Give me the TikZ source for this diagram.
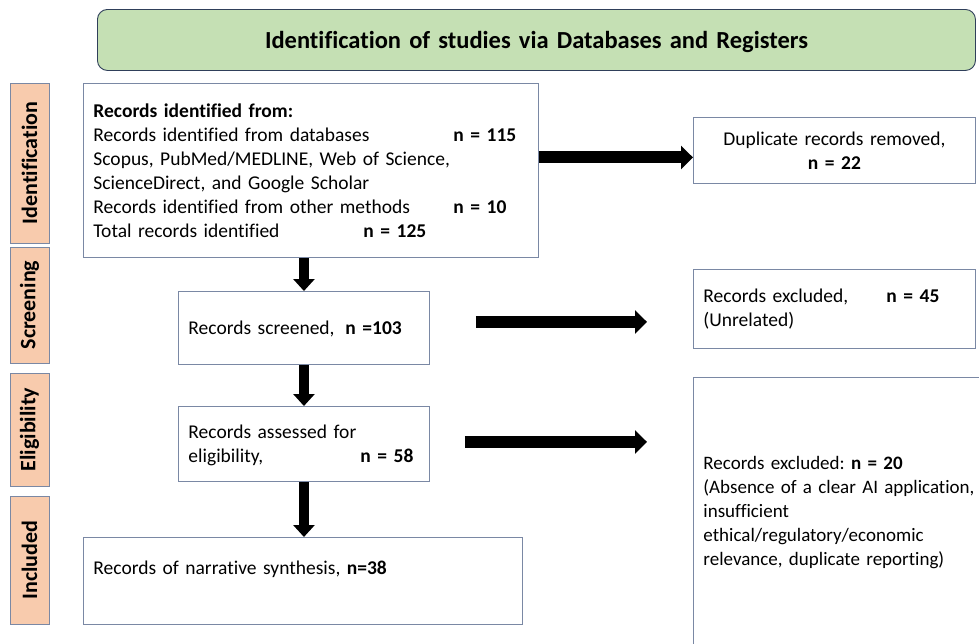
\documentclass[tikz,border=0pt]{standalone}
\usepackage{fontspec}
\setmainfont{Carlito}[Ligatures={NoCommon,NoRare,NoContextual}, RawFeature={-liga;-dlig;-clig}]
\usetikzlibrary{arrows.meta}
\definecolor{titlefill}{HTML}{C5E0B4}
\definecolor{titleline}{HTML}{2F3F5A}
\definecolor{sidefill}{HTML}{F8CBAD}
\definecolor{boxline}{HTML}{7A88A4}
\tikzset{
  x=1pt, y=-1pt,
  box/.style={draw=boxline, line width=0.9pt, anchor=north west, inner xsep=10pt, inner ysep=0pt,
    align=left, font=\fontsize{19.5}{24}\selectfont\frenchspacing},
  sidebox/.style={draw=boxline, fill=sidefill, line width=0.9pt, rotate=90, minimum height=39pt,
    inner sep=0pt, font=\bfseries\fontsize{22}{26}\selectfont},
  blk/.style={line width=12pt, draw=black, -{Triangle[length=12pt,width=23pt]}},
  blkv/.style={line width=10pt, draw=black, -{Triangle[length=12pt,width=21pt]}}
}
\begin{document}
\frenchspacing
\begin{tikzpicture}
\useasboundingbox (0,0) rectangle (979,643);
% title
\node[draw=titleline, fill=titlefill, line width=0.9pt, rounded corners=10pt, anchor=north west,
  minimum width=878pt, text width=858pt, align=center, inner xsep=10pt, inner ysep=0pt,
  text height=39pt, text depth=22pt, font=\bfseries\fontsize{24.5}{30}\selectfont]
  (title) at (97,9) {Identification of studies via Databases and Registers};
% side labels
\node[sidebox, minimum width=160pt] (sid) at (29.5,163) {Identification};
\node[sidebox, minimum width=116pt] (sscr) at (29.5,305) {Screening};
\node[sidebox, minimum width=113pt] (selig) at (29.5,429.5) {Eligibility};
\node[sidebox, minimum width=128pt] (sincl) at (29.5,560) {Included};
% boxes
\node[box, minimum width=455pt, text width=435pt, text height=34pt, text depth=140pt] (box1) at (83,83)
  {\textbf{Records identified from:}\\
   \makebox[360pt][l]{Records identified from databases}\textbf{n = 115}\\
   Scopus, PubMed/MEDLINE, Web of Science,\\
   ScienceDirect, and Google Scholar\\
   \makebox[360pt][l]{Records identified from other methods}\textbf{n = 10}\\
   \makebox[270pt][l]{Total records identified}\textbf{n = 125}};
\node[box, align=center, minimum width=282pt, text width=262pt, text height=28pt, text depth=38pt] (dup) at (693,117)
  {Duplicate records removed,\\ \textbf{n = 22}};
\node[box, minimum width=251pt, text width=231pt, text height=43pt, text depth=30pt] (scr) at (178,291)
  {\makebox[157pt][l]{Records screened,}\textbf{n =103}};
\node[box, minimum width=282pt, text width=262pt, text height=33pt, text depth=46pt] (exc45) at (693,269)
  {\makebox[183pt][l]{Records excluded,}\textbf{n = 45}\\(Unrelated)};
\node[box, minimum width=251pt, text width=231pt, text height=32pt, text depth=43pt] (elig) at (178,406)
  {Records assessed for\\\makebox[172pt][l]{eligibility,}\textbf{n = 58}};
\node[box, minimum width=320pt, text width=300pt, text height=92pt, text depth=320pt,
  font=\fontsize{19}{24}\selectfont\frenchspacing] (exc20) at (693,377)
  {Records excluded: \textbf{n = 20}\\
   (Absence of a clear AI application,\\
   insufficient\\
   ethical/regulatory/economic\\
   relevance, duplicate reporting)};
\node[box, minimum width=439pt, text width=419pt, text height=37pt, text depth=50pt] (incl) at (83,537)
  {Records of narrative synthesis, \textbf{n=38}};
% arrows
\coordinate (c1) at ([yshift=-7pt]dup.west);
\coordinate (c2) at ([yshift=-13pt]exc45.west);
\coordinate (c3) at ([yshift=2pt]elig.east);
\draw[blk] (box1.east |- c1) -- (c1);
\draw[blk, shorten <=46pt, shorten >=46pt] (scr.east |- c2) -- (c2);
\draw[blk, shorten <=35pt, shorten >=46pt] (c3) -- (c3 -| exc20.west);
\draw[blkv] (scr.north |- box1.south) -- (scr.north);
\draw[blkv] (scr.south) -- (elig.north);
\draw[blkv] (elig.south) -- (elig.south |- incl.north);
\end{tikzpicture}
\end{document}
